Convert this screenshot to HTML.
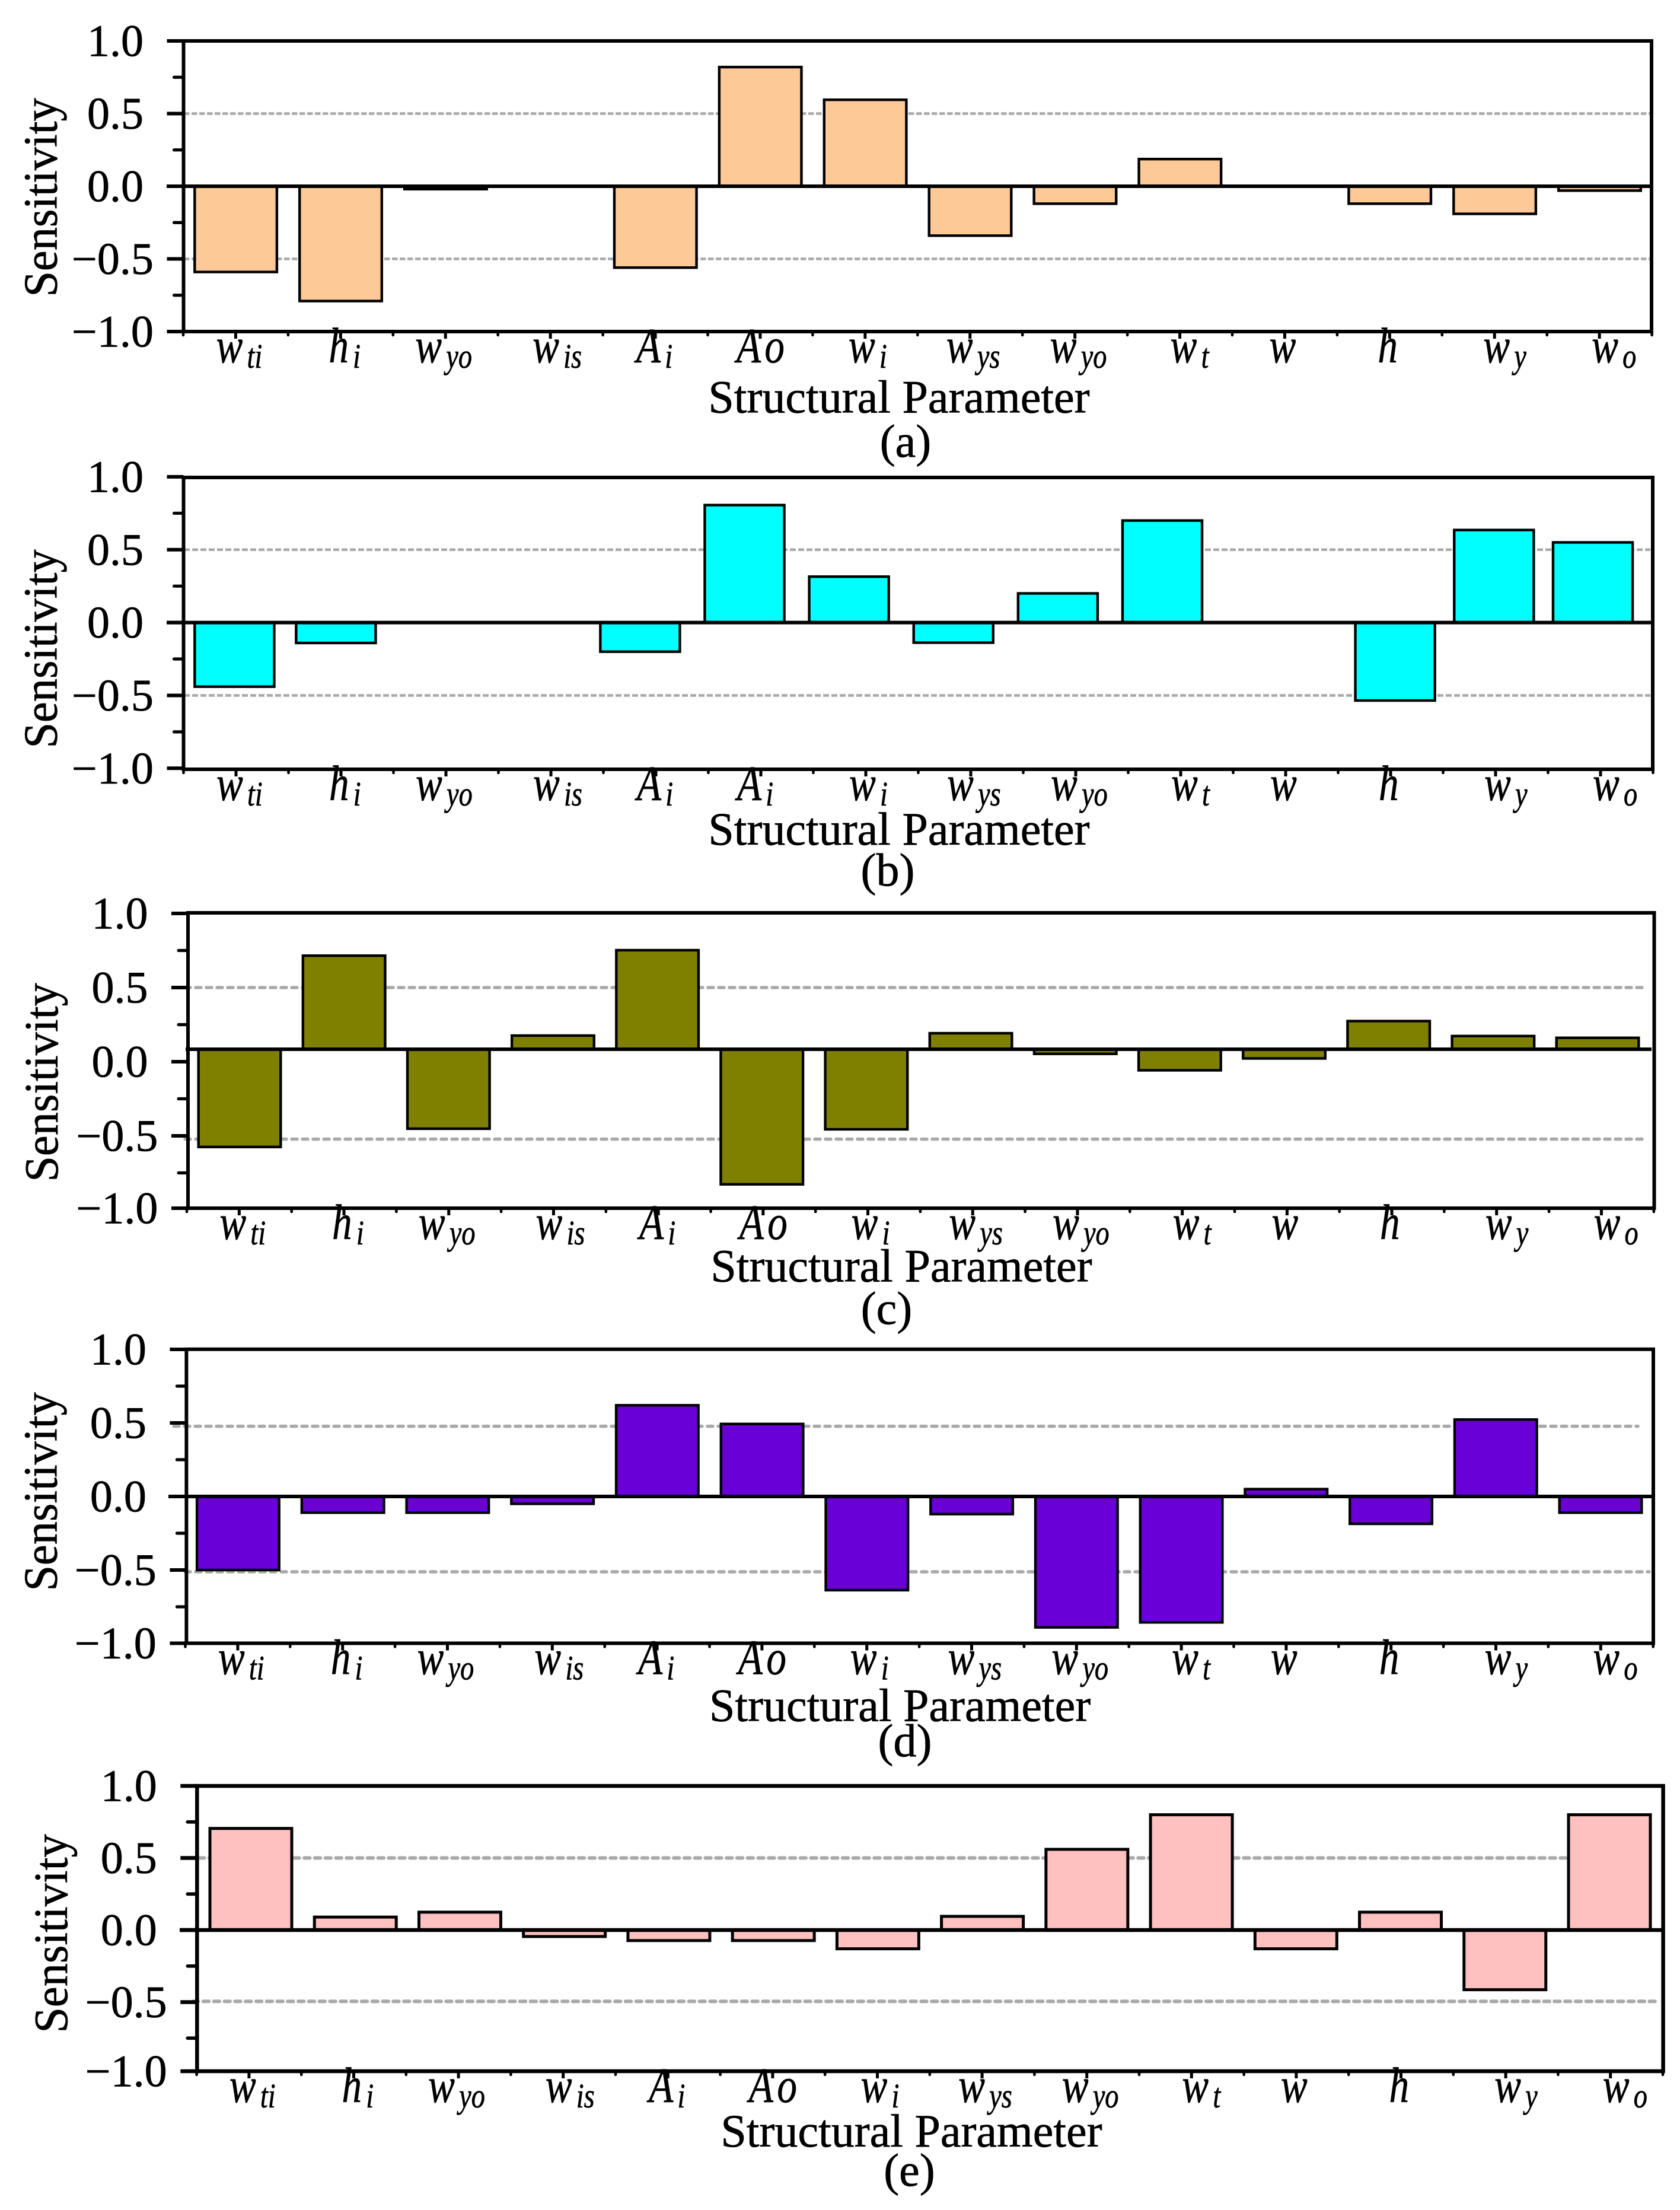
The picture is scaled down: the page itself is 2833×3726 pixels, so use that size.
<!DOCTYPE html>
<html lang="en">
<head>
<meta charset="utf-8">
<title>Sensitivity of structural parameters</title>
<style>
  html, body { margin: 0; padding: 0; background: #ffffff; }
  #figure { display: block; width: 2833px; height: 3726px; }
  text { font-family: "Liberation Serif", serif; fill: #000000; stroke: #000000; stroke-width: 0.7px; }
</style>
</head>
<body>
<svg id="figure" xmlns="http://www.w3.org/2000/svg" width="2833" height="3726" viewBox="0 0 2833 3726"></svg>
<script>
/* ---------- chart data ---------- */
const categoryBase = ['w', 'h', 'w', 'w', 'A', 'Ao', 'w', 'w', 'w', 'w', 'w', 'h', 'w', 'w'];
const categorySub = ['ti', 'i', 'yo', 'is', 'i', '', 'i', 'ys', 'yo', 't', '', '', 'y', 'o'];
const categoryBaseB = ['w', 'h', 'w', 'w', 'A', 'A', 'w', 'w', 'w', 'w', 'w', 'h', 'w', 'w'];
const categorySubB = ['ti', 'i', 'yo', 'is', 'i', 'i', 'i', 'ys', 'yo', 't', '', '', 'y', 'o'];
const yMajorValues = [1, 0.5, 0, -0.5, -1];
const yMajorLabels = ['1.0', '0.5', '0.0', '\u22120.5', '\u22121.0'];
const yMinorValues = [0.75, 0.25, -0.25, -0.75];

const sensitivityA = [-0.59, -0.79, -0.02, 0, -0.56, 0.82, 0.595, -0.34, -0.12, 0.187, 0, -0.12, -0.19, -0.03];
const sensitivityB = [-0.44, -0.14, 0, 0, -0.2, 0.806, 0.315, -0.138, 0.2, 0.70, 0, -0.535, 0.635, 0.55];
const sensitivityC = [-0.575, 0.715, -0.452, 0.176, 0.752, -0.827, -0.456, 0.192, 0.053, -0.058, 0.022, 0.274, 0.173, 0.161];
const sensitivityD = [-0.5, -0.11, -0.11, -0.05, 0.62, 0.493, -0.637, -0.12, -0.89, -0.856, 0.05, -0.186, 0.523, -0.11];
const sensitivityE = [0.705, 0.09, 0.124, -0.045, -0.073, -0.073, -0.13, 0.095, 0.56, 0.80, -0.13, 0.124, -0.414, 0.80];

/* ---------- panel layout (axes frames, not data) ---------- */
const panels = [
  { id: 'a', values: sensitivityA, base: categoryBase, sub: categorySub, fill: '#FCC997',
    L: 309.5, R: 2785, T: 69, B: 559, y0: 314, unit: 245, sw: 6, barSw: 4.4,
    tickL: 309, tickP: 176.9, barW: 143, barKnots: [[0, 397.6], [13, 2697.5]],
    baseline: 0, baseX1: 281, baseX2: 2785,
    grid: [{ v: 0.5, x1: 310, x2: 2782 }, { v: -0.5, x1: 310, x2: 2782 }], dash: '9.5 3.5', gridW: 4.5, cap: 'butt',
    yTitleX: 95.6, yTitleY: 333, xTitleX: 1516, xTitleY: 695.5, capX: 1527, capY: 770, caption: '(a)' },
  { id: 'b', values: sensitivityB, base: categoryBaseB, sub: categorySubB, fill: '#00FFFF',
    L: 309.5, R: 2787, T: 805, B: 1297, y0: 1049.6, unit: 245.7, sw: 6, barSw: 4.4,
    tickL: 309.5, tickP: 177, barW: 138.5, barKnots: [[0, 395.4], [4, 1079.4], [9, 1960], [11, 2352.6], [13, 2686]],
    baseline: 0, baseX1: 281, baseX2: 2787,
    grid: [{ v: 0.5, x1: 310, x2: 2783 }, { v: -0.5, x1: 310, x2: 2783 }], dash: '10 4', gridW: 4.5, cap: 'butt',
    yTitleX: 95.6, yTitleY: 1094, xTitleX: 1516, xTitleY: 1424, capX: 1497, capY: 1493, caption: '(b)' },
  { id: 'c', values: sensitivityC, base: categoryBase, sub: categorySub, fill: '#808000',
    L: 317, R: 2789.5, T: 1539, B: 2037, y0: 1790, unit: 250, sw: 6, barSw: 4.4,
    tickL: 315, tickP: 176.7, barW: 143, barKnots: [[0, 404], [13, 2694]],
    baseline: 0.084, baseX1: 313, baseX2: 2785,
    grid: [{ v: 0.5, x1: 312, x2: 2778 }, { v: -0.522, x1: 312, x2: 2778 }], dash: '9 9', gridW: 5.5, cap: 'round',
    yTitleX: 97, yTitleY: 1825, xTitleX: 1520, xTitleY: 2160.7, capX: 1495, capY: 2232, caption: '(c)' },
  { id: 'd', values: sensitivityD, base: categoryBase, sub: categorySub, fill: '#6A00D8',
    L: 314.4, R: 2788, T: 2274.8, B: 2770.5, y0: 2523, unit: 248, sw: 6, barSw: 4.4,
    tickL: 312.5, tickP: 176.8, barW: 143, barKnots: [[0, 401.4], [13, 2699]],
    baseline: 0, baseX1: 284, baseX2: 2788,
    grid: [{ v: 0.4775, x1: 293, x2: 2762 }, { v: -0.512, x1: 312, x2: 2781 }], dash: '9 9', gridW: 5.5, cap: 'round',
    yTitleX: 95.6, yTitleY: 2515, xTitleX: 1517.6, xTitleY: 2901.6, capX: 1526, capY: 2961, caption: '(d)' },
  { id: 'e', values: sensitivityE, base: categoryBase, sub: categorySub, fill: '#FFC0C0',
    L: 332.3, R: 2804.6, T: 3011, B: 3492, y0: 3254, unit: 243, sw: 6.5, barSw: 5,
    tickL: 331.6, tickP: 176.6, barW: 143, barKnots: [[0, 423], [13, 2714]],
    baseline: 0, baseX1: 303, baseX2: 2804.6,
    grid: [{ v: 0.5, x1: 335, x2: 2640 }, { v: -0.495, x1: 325, x2: 2791 }], dash: '9.5 8.3', gridW: 6, cap: 'round',
    yTitleX: 113, yTitleY: 3260, xTitleX: 1537, xTitleY: 3618.8, capX: 1533.5, capY: 3685, caption: '(e)' }
];
const labelNudge = [-33, -20, -51, -30, -32, -40, -28, -40, -42, -16, -26, -20, -19, -13];

/* ---------- drawing ---------- */
const SVG_NS = 'http://www.w3.org/2000/svg';
const figure = document.getElementById('figure');

function node(tag, parent, attrs) {
  const el = document.createElementNS(SVG_NS, tag);
  for (const k in attrs) el.setAttribute(k, attrs[k]);
  parent.appendChild(el);
  return el;
}

function knotScale(knots) {
  return function (i) {
    for (let k = 0; k < knots.length - 1; k++) {
      const a = knots[k], b = knots[k + 1];
      if (i <= b[0]) return a[1] + (i - a[0]) * (b[1] - a[1]) / (b[0] - a[0]);
    }
    return knots[knots.length - 1][1];
  };
}

function drawPanel(p) {
  const g = node('g', figure, {});
  
  

  const yScale = v => p.y0 - p.unit * v;
  const xTick = t => p.tickL + t * p.tickP;
  const xBar = knotScale(p.barKnots);

  /* grid lines */
  p.grid.forEach(gl => {
    const line = node('line', g, { x1: gl.x1, x2: gl.x2, y1: yScale(gl.v), y2: yScale(gl.v), stroke: '#A9A9A9', 'stroke-width': p.gridW, 'stroke-dasharray': p.dash, 'stroke-linecap': p.cap });
    
    
  });

  /* bars */
  const baseY = yScale(p.baseline);
  p.values.forEach((v, i) => {
    const vy = yScale(v);
    const bar = node('rect', g, {
      x: xBar(i) - (p.barW - p.barSw) / 2,
      y: Math.min(vy, baseY),
      width: p.barW - p.barSw,
      height: Math.abs(vy - baseY),
      fill: p.fill, stroke: '#000000', 'stroke-width': p.barSw
    });
    
    
  });

  /* frame */
  const frame = node('rect', g, { x: p.L, y: p.T, width: p.R - p.L, height: p.B - p.T, fill: 'none', stroke: '#000000', 'stroke-width': p.sw });
  
  

  /* zero / base line */
  const zero = node('line', g, { x1: p.baseX1, x2: p.baseX2, y1: baseY, y2: baseY, stroke: '#000000', 'stroke-width': p.sw });
  
  

  /* y ticks */
  yMajorValues.forEach((v, i) => {
    const ty = Math.min(yScale(v), p.B);
    const tick = node('line', g, { x1: p.L - 28, x2: p.L, y1: ty, y2: ty, stroke: '#000000', 'stroke-width': p.sw });
    
    
    const negative = v < 0;
    const lab = node('text', g, { x: p.L - (negative ? 188.5 : 162.5), y: ty + 25.5, 'font-size': 76 });
    lab.textContent = yMajorLabels[i];
    
    
  });
  yMinorValues.forEach(v => {
    const ty = yScale(v);
    const tick = node('line', g, { x1: p.L - 16, x2: p.L, y1: ty, y2: ty, stroke: '#000000', 'stroke-width': p.sw - 0.8, 'stroke-linecap': 'round' });
    
    
  });

  /* x ticks */
  for (let t = 0; t <= 14; t++) {
    const tick = node('line', g, { x1: xTick(t), x2: xTick(t), y1: p.B, y2: p.B + 6, stroke: '#000000', 'stroke-width': 4.5, 'stroke-linecap': 'round' });
    
    
  }
  p.base.forEach((b, i) => {
    const tx = xTick(i + 0.5);
    const tick = node('line', g, { x1: tx, x2: tx, y1: p.B, y2: p.B + 12, stroke: '#000000', 'stroke-width': 5 });
    
    

    const lab = node('text', g, { transform: 'translate(' + (tx + labelNudge[i]) + ',' + (p.B + 52) + ') scale(0.8,1)', 'font-size': 84, 'font-style': 'italic' });
    
    
    if (b === 'Ao') {
      lab.setAttribute('letter-spacing', '8');
    }
    const main = node('tspan', lab, {});
    main.textContent = b;
    if (p.sub[i]) {
      const sub = node('tspan', lab, { dx: 9, dy: 9, 'font-size': 58 });
      sub.textContent = p.sub[i];
    }
  });

  /* axis titles */
  const yTitle = node('text', g, { transform: 'translate(' + p.yTitleX + ',' + p.yTitleY + ') rotate(-90) scale(0.98,1)', 'font-size': 80, 'text-anchor': 'middle' });
  yTitle.textContent = 'Sensitivity';
  
  

  const xTitle = node('text', g, { x: p.xTitleX, y: p.xTitleY, 'font-size': 78, 'text-anchor': 'middle' });
  xTitle.textContent = 'Structural Parameter';
  
  

  const caption = node('text', g, { x: p.capX, y: p.capY, 'font-size': 78, 'text-anchor': 'middle' });
  caption.textContent = p.caption;
  
  
}

panels.forEach(drawPanel);
</script>
</body>
</html>
